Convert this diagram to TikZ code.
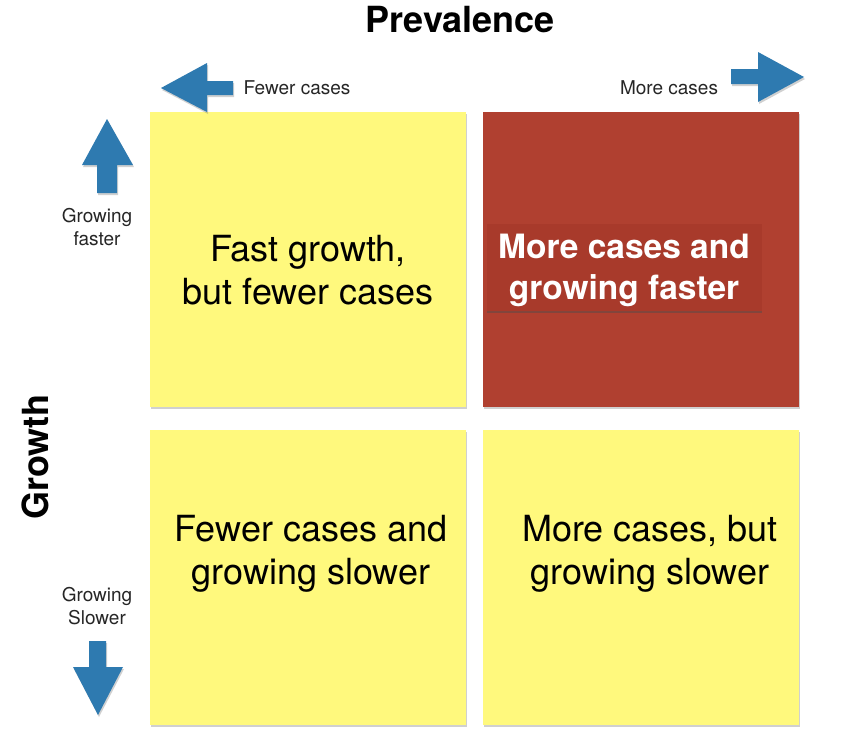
\documentclass[tikz,border=0pt]{standalone}
\usepackage{fontspec}
\setmainfont{TeX Gyre Heros}
\usetikzlibrary{shadows}
\definecolor{postit}{RGB}{255,249,125}
\definecolor{redbox}{RGB}{176,64,48}
\definecolor{redlabel}{RGB}{168,58,43}
\definecolor{arrowblue}{RGB}{46,122,176}
\tikzset{
  softshadow/.style={drop shadow={shadow xshift=1pt, shadow yshift=-2pt, opacity=.3, fill=black!60}},
  quad/.style={draw=none, inner sep=0pt, minimum width=316pt, minimum height=295pt, softshadow},
  yellowquad/.style={quad, fill=postit},
  redquad/.style={quad, fill=redbox},
  bigtext/.style={align=center, font=\fontsize{36}{43}\selectfont, text=black},
  redtext/.style={align=center, font=\fontsize{33.5}{41}\selectfont\bfseries, text=white},
  smalltext/.style={align=center, font=\fontsize{19}{23}\selectfont, text=black!85},
  axistitle/.style={font=\fontsize{36}{43}\selectfont\bfseries, text=black},
  bluearrow/.style={fill=arrowblue, draw=none, softshadow}
}
\begin{document}
\begin{tikzpicture}[x=1pt,y=-1pt]
\useasboundingbox[fill=white] (0,0) rectangle (849,739);

% quadrants
\node[yellowquad] (tl) at (308,259.5) {};
\node[redquad] (tr) at (641,259) {};
\node[yellowquad] (bl) at (308,577.5) {};
\node[yellowquad] (br) at (641,577.5) {};

% red label
\node[fill=redlabel, inner sep=0pt, minimum width=275pt, minimum height=87pt,
  drop shadow={shadow xshift=0pt, shadow yshift=-2.5pt, opacity=.45, fill=black!70}] (trlabel) at (624,267) {};

% quadrant texts
\node[bigtext] (tltext) at (308,270) {Fast growth,\\but fewer cases};
\node[redtext] (trtext) at (624,270) {More cases and\\growing faster};
\node[bigtext] (bltext) at (311,554) {Fewer cases and\\growing slower};
\node[bigtext] (brtext) at (650,554) {More cases, but\\growing slower};

% axis titles
\node[axistitle] (prev) at (460,20) {Prevalence};
\node[axistitle, rotate=90] (growth) at (35,457) {Growth};

% small labels
\node[smalltext] (fewer) at (297,88) {Fewer cases};
\node[smalltext] (more) at (669,88) {More cases};
\node[smalltext] (faster) at (97,227) {Growing\\faster};
\node[smalltext] (slower) at (97,606) {Growing\\Slower};

% arrows
\path[bluearrow] (161,88) -- (207,63) -- (207,81) -- (233,81) -- (233,95) -- (207,95) -- (207,112) -- cycle;
\path[bluearrow] (804,77) -- (758,52) -- (758,69) -- (731,69) -- (731,84) -- (758,84) -- (758,102) -- cycle;
\path[bluearrow] (107,119) -- (133,165) -- (117,165) -- (117,193) -- (97,193) -- (97,165) -- (82,165) -- cycle;
\path[bluearrow] (98,715) -- (123,667) -- (106,667) -- (106,641) -- (89,641) -- (89,667) -- (73,667) -- cycle;
\end{tikzpicture}
\end{document}
